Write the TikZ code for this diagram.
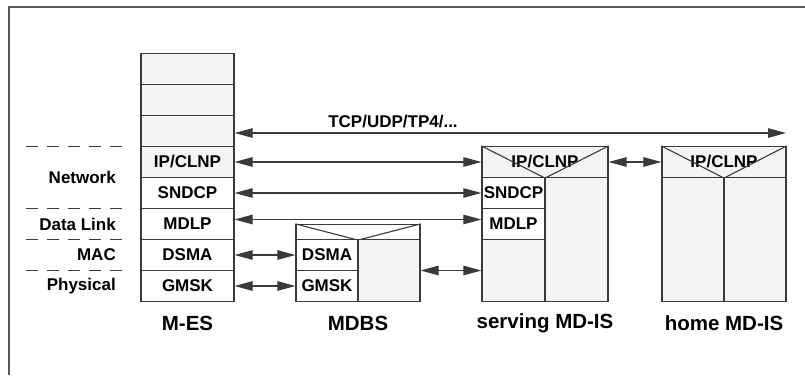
\documentclass[tikz,border=0pt]{standalone}
\usepackage{fontspec}
\setmainfont{Liberation Sans}
\usetikzlibrary{arrows.meta}
\definecolor{boxgray}{HTML}{F4F4F4}
\definecolor{linegray}{HTML}{3A3A3A}

\begin{document}
\begin{tikzpicture}[x=1pt, y=-1pt,
        layerbox/.style={draw=linegray, line width=1.2pt, fill=white, inner sep=0pt,
            font=\fontsize{17}{20}\selectfont\bfseries},
        graybox/.style={layerbox, fill=boxgray},
        sidelabel/.style={anchor=east, inner sep=0pt, font=\fontsize{17}{20}\selectfont\bfseries},
        namelabel/.style={inner sep=0pt, font=\fontsize{20.5}{24}\selectfont\bfseries},
        sep/.style={draw=linegray, line width=1.1pt, dash pattern=on 12pt off 9pt},
        arrow/.style={{Triangle[length=18pt, width=9.5pt]}-{Triangle[length=18pt, width=9.5pt]}, draw=linegray, line width=1.1pt}]

        \useasboundingbox (0,0) rectangle (805,375);
        \draw[draw=gray!70!black, line width=1.5pt] (9,375) -- (9,7) -- (805,7);

        % M-ES stack
        \node[graybox, minimum width=93, minimum height=31] (mesA) at (187.5,69) {};
        \node[graybox, minimum width=93, minimum height=31] (mesB) at (187.5,100) {};
        \node[graybox, minimum width=93, minimum height=31] (mesC) at (187.5,131) {};
        \node[graybox, minimum width=93, minimum height=31] (mesIp) at (187.5,162) {IP/CLNP};
        \node[layerbox, minimum width=93, minimum height=31] (mesSndcp) at (187.5,193) {SNDCP};
        \node[layerbox, minimum width=93, minimum height=31] (mesMdlp) at (187.5,224) {MDLP};
        \node[layerbox, minimum width=93, minimum height=31] (mesDsma) at (187.5,255) {DSMA};
        \node[layerbox, minimum width=93, minimum height=31] (mesGmsk) at (187.5,286) {GMSK};

        % MDBS
        \node[layerbox, minimum width=124, minimum height=15] (mdbsHead) at (358,232) {};
        \draw[draw=linegray, line width=1.1pt] (mdbsHead.north west) -- (mdbsHead.south) -- (mdbsHead.north east);
        \node[layerbox, minimum width=62, minimum height=31] (mdbsDsma) at (327,255) {DSMA};
        \node[layerbox, minimum width=62, minimum height=31] (mdbsGmsk) at (327,286) {GMSK};
        \node[graybox, minimum width=62, minimum height=62] (mdbsRight) at (389,270.5) {};

        % serving MD-IS
        \node[graybox, minimum width=126, minimum height=31] (servHead) at (545,162) {IP/CLNP};
        \draw[draw=linegray, line width=1.1pt] (servHead.north west) -- (servHead.south) -- (servHead.north east);
        \node[layerbox, minimum width=63, minimum height=31] (servSndcp) at (513.5,193) {SNDCP};
        \node[layerbox, minimum width=63, minimum height=31] (servMdlp) at (513.5,224) {MDLP};
        \node[graybox, minimum width=63, minimum height=62] (servLow) at (513.5,270.5) {};
        \node[graybox, minimum width=63, minimum height=124] (servRight) at (576.5,239.5) {};

        % home MD-IS
        \node[graybox, minimum width=124, minimum height=31] (homeHead) at (724,162) {IP/CLNP};
        \draw[draw=linegray, line width=1.1pt] (homeHead.north west) -- (homeHead.south) -- (homeHead.north east);
        \node[graybox, minimum width=62, minimum height=124] (homeLeft) at (693,239.5) {};
        \node[graybox, minimum width=62, minimum height=124] (homeRight) at (755,239.5) {};

        % layer names
        \draw[sep] (26,146.5) -- (130,146.5);
        \draw[sep] (26,208.5) -- (130,208.5);
        \draw[sep] (26,239.5) -- (130,239.5);
        \draw[sep] (26,270.5) -- (130,270.5);
        \node[sidelabel] (lNet) at (116,177.5) {Network};
        \node[sidelabel] (lLink) at (116,224) {Data Link};
        \node[sidelabel] (lMac) at (116,255) {MAC};
        \node[sidelabel] (lPhy) at (116,286) {Physical};

        % peer protocols
        \coordinate (tcpEnd) at (786,133);
        \draw[arrow] (mesC.east |- tcpEnd) -- (tcpEnd);
        \node[sidelabel, anchor=center] (tcp) at (393,121.5) {TCP/UDP/TP4/...};
        \draw[arrow] (mesIp.east) -- (servHead.west);
        \draw[arrow] (mesSndcp.east) -- (servSndcp.west);
        \draw[arrow] ([yshift=4.5pt]mesMdlp.east) -- ([yshift=4.5pt]servMdlp.west);
        \draw[arrow] (mesDsma.east) -- (mdbsDsma.west);
        \draw[arrow] (mesGmsk.east) -- (mdbsGmsk.west);
        \draw[arrow] (mdbsRight.east) -- (servLow.west);
        \draw[arrow] (servHead.east) -- (homeHead.west);

        % station names
        \node[namelabel] (nMes) at (187.5,323) {M-ES};
        \node[namelabel] (nMdbs) at (358,323) {MDBS};
        \node[namelabel] (nServ) at (545,323) {serving MD-IS};
        \node[namelabel] (nHome) at (724,323) {home MD-IS};
      \end{tikzpicture}
\end{document}
